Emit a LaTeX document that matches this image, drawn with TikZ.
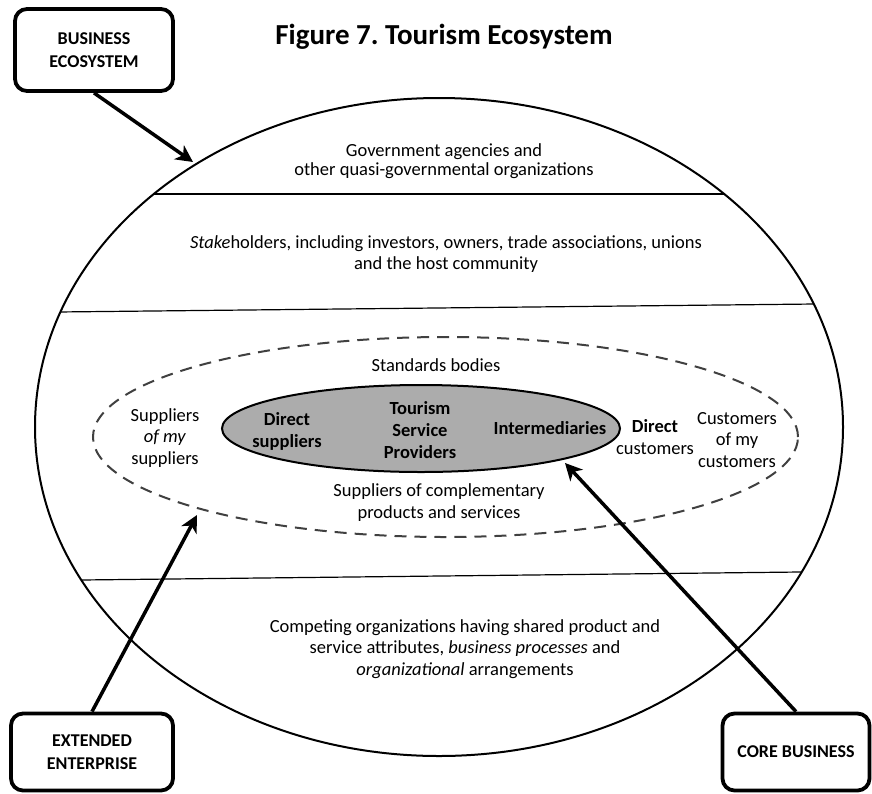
\documentclass[tikz,border=0pt]{standalone}
\usepackage{fontspec}
\setmainfont{Carlito}
\usetikzlibrary{arrows.meta,shapes.geometric}
\begin{document}
\begin{tikzpicture}[x=1pt,y=-1pt,
	txt/.style={align=center,font=\fontsize{18.5}{21.5}\selectfont},
	core/.style={align=center,font=\fontsize{18.5}{22}\selectfont\bfseries},
	tag/.style={draw,line width=3.8pt,rounded corners=12pt,align=center,font=\fontsize{18}{23}\selectfont\bfseries},
	pointer/.style={line width=3.5pt,-{Stealth[length=17pt,width=17pt,inset=5pt]}}]
	\useasboundingbox (0,0) rectangle (872,793);
	\node[font=\fontsize{29}{34}\selectfont\bfseries,name=title] at (444,37) {Figure 7.\ Tourism Ecosystem};
	\node[draw,shape=ellipse,line width=2pt,minimum width=808pt,minimum height=658pt,name=E1] at (439,427) {};
	\begin{scope}
		\clip (439,427) ellipse [x radius=404pt,y radius=329pt];
		\draw[line width=2pt] (0,194)--(872,194);
		\draw[line width=1.2pt] (0,312.6)--(872,303.4);
		\draw[line width=1.2pt] (0,580.9)--(872,571.2);
	\end{scope}
	\node[draw,shape=ellipse,line width=2pt,draw=black!75,dash pattern=on 12pt off 8pt,minimum width=705pt,minimum height=200pt,name=E2] at (445.5,437) {};
	\node[draw,shape=ellipse,line width=2pt,fill=gray!65,minimum width=398pt,minimum height=87pt,name=E3] at (421,428.5) {};
	\node[txt,font=\fontsize{18.5}{19}\selectfont,name=gov] at (444,161) {Government agencies and\\other quasi-governmental organizations};
	\node[txt,name=stake] at (446,254) {\textit{Stake}holders, including investors, owners, trade associations, unions\\and the host community};
	\node[txt,name=std] at (436,365) {Standards bodies};
	\node[txt,name=sos] at (165,438) {Suppliers\\\textit{of my}\\suppliers};
	\node[core,name=ds] at (287,431) {Direct\\suppliers};
	\node[core,name=tsp] at (420,430) {Tourism\\Service\\Providers};
	\node[core,name=im] at (550,428) {Intermediaries};
	\node[txt,name=dc] at (655,437) {\textbf{Direct}\\customers};
	\node[txt,name=coc] at (737,440) {Customers\\of my\\customers};
	\node[txt,name=comp] at (439,502.5) {Suppliers of complementary\\products and services};
	\node[txt,name=rival] at (465,649) {Competing organizations having shared product and\\service attributes, \textit{business processes} and\\\textit{organizational} arrangements};
	\node[tag,minimum width=158pt,minimum height=82pt,name=B1] at (94,50) {BUSINESS\\ECOSYSTEM};
	\node[tag,minimum width=162pt,minimum height=77pt,name=B2] at (92,752) {EXTENDED\\ENTERPRISE};
	\node[tag,minimum width=147pt,minimum height=77pt,name=B3] at (796,752) {CORE BUSINESS};
	\coordinate (T1) at (193,162);
	\coordinate (T2) at (197,515);
	\coordinate (T3) at (565,463);
	\draw[pointer] (B1.south)--(T1);
	\draw[pointer] (B2.north)--(T2);
	\draw[pointer] (B3.north)--(T3);
\end{tikzpicture}
\end{document}
